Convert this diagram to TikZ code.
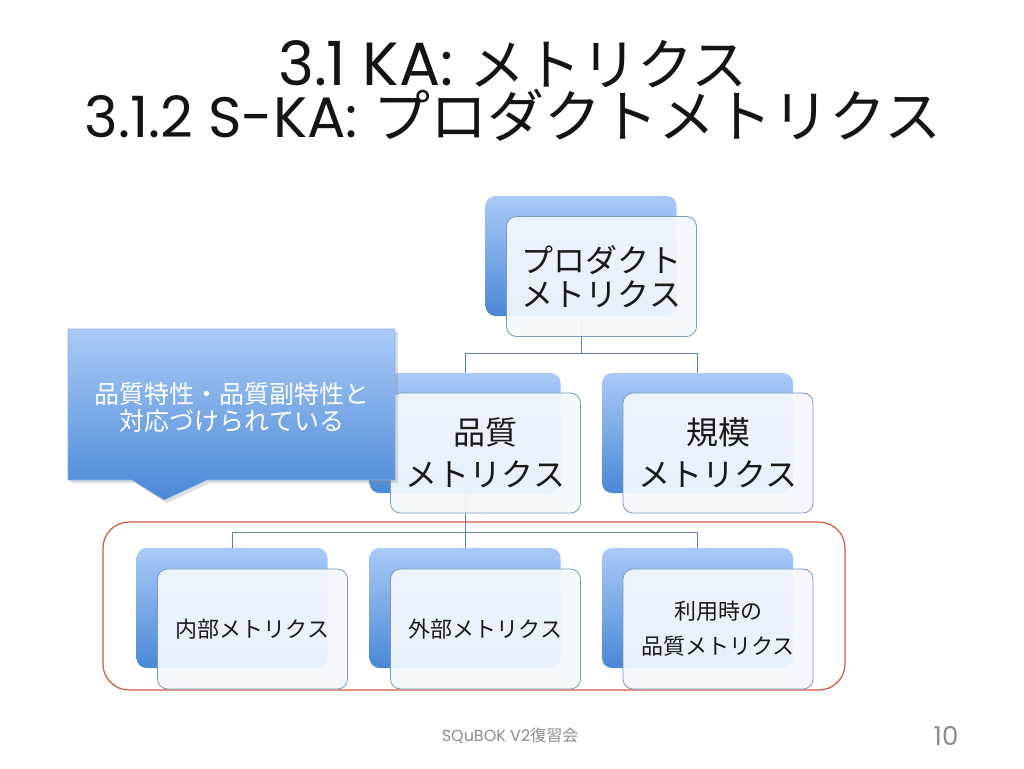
\documentclass[tikz,border=0pt]{standalone}
\usepackage{fontspec}
\setmainfont{Poppins}
\newfontfamily\cjk{Noto Sans CJK JP}
\usetikzlibrary{shadows}
\definecolor{boxtop}{RGB}{170,202,247}
\definecolor{boxbot}{RGB}{74,136,214}
\definecolor{frontfill}{RGB}{244,248,253}
\definecolor{frontline}{RGB}{120,154,190}
\definecolor{linkcol}{RGB}{95,130,170}
\definecolor{redframe}{RGB}{212,86,60}
\definecolor{footgray}{RGB}{140,140,140}
\definecolor{callline}{RGB}{140,175,220}
\begin{document}
\begin{tikzpicture}[x=1pt,y=-1pt,
  backbox/.style={rectangle, rounded corners=10pt, minimum width=191pt, minimum height=120pt,
    top color=boxtop, bottom color=boxbot, inner sep=0pt},
  frontbox/.style={rectangle, rounded corners=10pt, minimum width=190pt, minimum height=120pt,
    fill=frontfill, fill opacity=0.93, text opacity=1, draw=frontline, line width=0.8pt,
    align=center, inner sep=0pt, text=black!90},
  link/.style={draw=linkcol, line width=0.8pt},
  bigtxt/.style={font=\cjk\fontsize{32}{34}\selectfont},
  midtxt/.style={font=\cjk\fontsize{32}{42}\selectfont},
  smalltxt/.style={font=\cjk\fontsize{22}{35}\selectfont},
  titletxt/.style={text=black!92, inner sep=0pt, align=center}
]
\useasboundingbox (0,0) rectangle (1024,768);
\fill[white] (0,0) rectangle (1024,768);

% title (one text, two lines)
\node[titletxt, anchor=base] (title) at (513,137)
  {{\fontsize{61}{55}\selectfont 3.1 KA: {\cjk\fontsize{56}{55}\selectfont メトリクス}}\\
   {\fontsize{57}{55}\selectfont 3.1.2 S-KA: {\cjk\fontsize{57}{55}\selectfont プロダクトメトリクス}}};

% red group frame
\draw[draw=redframe, line width=1.2pt, rounded corners=26pt] (103,522) rectangle (845,690);

% back boxes
\node[backbox] (topb) at (581,256) {};
\node[backbox] (m1b) at (465,433) {};
\node[backbox] (m2b) at (697.5,433) {};
\node[backbox] (b1b) at (232,608) {};
\node[backbox] (b2b) at (465,608) {};
\node[backbox] (b3b) at (697.5,608) {};

% connectors
\coordinate (j1) at (581,353);
\coordinate (j2) at (465,532);
\draw[link] (topb.south) -- (j1) -| (m1b.north);
\draw[link] (j1) -| (m2b.north);
\draw[link] (m1b.south) -- (j2) -| (b1b.north);
\draw[link] (j2) -| (b3b.north);
\draw[link] (j2) -- (b2b.north);

% front boxes
\node[frontbox, bigtxt] (topf) at (601.5,276.5) {プロダクト\\メトリクス};
\node[frontbox, midtxt] (m1f) at (485.5,453) {品質\\メトリクス};
\node[frontbox, midtxt] (m2f) at (718,453) {規模\\メトリクス};
\node[frontbox, smalltxt] (b1f) at (252.5,629) {内部メトリクス};
\node[frontbox, smalltxt] (b2f) at (485.5,629) {外部メトリクス};
\node[frontbox, smalltxt] (b3f) at (718,629) {利用時の\\品質メトリクス};

% callout
\path[draw=callline, line width=0.6pt, top color=boxtop, bottom color=boxbot,
      drop shadow={opacity=0.25, shadow xshift=3pt, shadow yshift=-3pt}]
  (68,329) -- (395,329) -- (395,480) -- (207,480) -- (164,500) -- (132,480) -- (68,480) -- cycle;
\node[font=\cjk\fontsize{25}{27}\selectfont, text=white, align=center] (call) at (232,407)
  {品質特性・品質副特性と\\対応づけられている};

% footer
\node[font=\fontsize{16}{16}\selectfont, text=footgray, anchor=base] (foot) at (510,741) {SQuBOK V2{\cjk 復習会}};
\node[font=\fontsize{26}{26}\selectfont, text=footgray, anchor=base] (pnum) at (946,745) {10};
\end{tikzpicture}
\end{document}
